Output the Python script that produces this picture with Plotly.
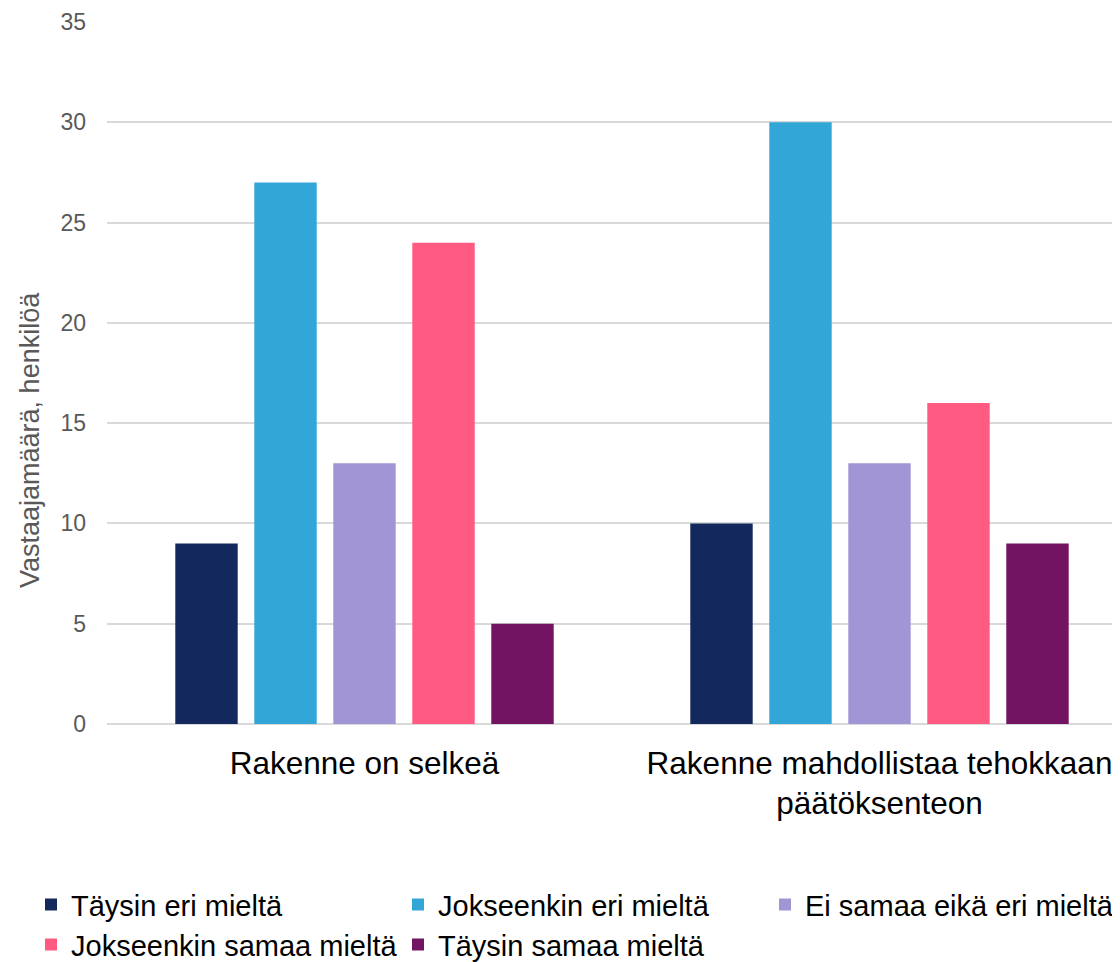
import plotly.graph_objects as go

categories = ["Rakenne on selkeä", "Rakenne mahdollistaa tehokkaan<br>päätöksenteon"]
series_names = ["Täysin eri mieltä", "Jokseenkin eri mieltä", "Ei samaa eikä eri mieltä",
                "Jokseenkin samaa mieltä", "Täysin samaa mieltä"]
values_taysin_eri = [9, 10]
values_jokseenkin_eri = [27, 30]
values_ei_samaa = [13, 13]
values_jokseenkin_samaa = [24, 16]
values_taysin_samaa = [5, 9]
colors = ["#13295E", "#32A7D7", "#A195D6", "#FF5A82", "#731462"]
y_ticks = [0, 5, 10, 15, 20, 25, 30, 35]
y_title = "Vastaajamäärä, henkilöä"

all_values = [values_taysin_eri, values_jokseenkin_eri, values_ei_samaa,
              values_jokseenkin_samaa, values_taysin_samaa]

# legend slot positions (container x, paper y) — layout only
legend_x = [23 / 1112, 390 / 1112, 757 / 1112, 23 / 1112, 390 / 1112]
legend_y = [-0.221, -0.221, -0.221, -0.278, -0.278]

fig = go.Figure()
legend_layout = {}
for i, (name, vals, col) in enumerate(zip(series_names, all_values, colors)):
    key = "legend" if i == 0 else f"legend{i + 1}"
    fig.add_trace(go.Bar(x=categories, y=vals, name=name, marker_color=col,
                         marker_line_width=0, legend=key))
    legend_layout[key] = dict(orientation="h", x=legend_x[i], xref="container",
                              y=legend_y[i], yref="paper", xanchor="left", yanchor="top",
                              font=dict(size=29, color="#000000"), itemwidth=30,
                              bgcolor="rgba(0,0,0,0)")

fig.update_layout(
    width=1112, height=954,
    paper_bgcolor="white", plot_bgcolor="white",
    margin=dict(l=99, r=0, t=14, b=238, autoexpand=False),
    barmode="group", bargap=0.233, bargroupgap=0.21,
    font=dict(family="Liberation Sans, Arial, sans-serif"),
    showlegend=True,
    **legend_layout,
)
fig.add_annotation(text=y_title, xref="paper", yref="paper", x=-0.076, y=0.4046,
                   xanchor="center", yanchor="middle", textangle=-90, showarrow=False,
                   font=dict(size=27, color="#595959"))
fig.update_xaxes(range=[-0.5, 1.467], showgrid=False, showline=False,
                 tickfont=dict(size=31.5, color="#000000"), ticks="", ticklabelstandoff=17)
fig.update_yaxes(range=[0, 35], tickvals=y_ticks, showgrid=True, gridcolor="#D9D9D9",
                 gridwidth=1.5, zeroline=True, zerolinecolor="#D9D9D9", zerolinewidth=1.5,
                 tickfont=dict(size=23, color="#595959"), ticks="", ticklabelstandoff=20)
fig.write_html("out.html")
